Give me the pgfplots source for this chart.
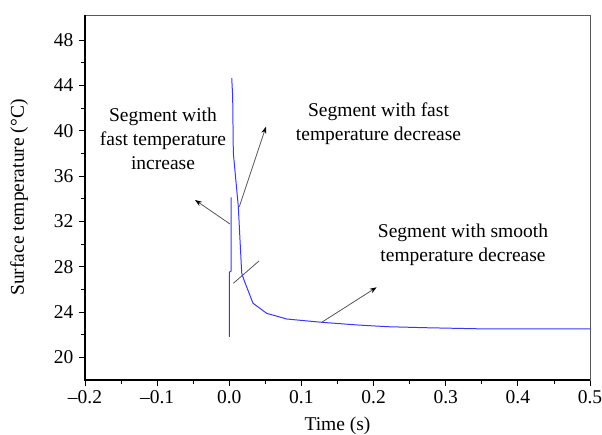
\documentclass[border=0pt]{standalone}
\usepackage{fontspec}
\setmainfont{Liberation Serif}
\usepackage{pgfplots}
\pgfplotsset{compat=1.18}
\usetikzlibrary{arrows.meta}
\definecolor{curve}{RGB}{55,55,255}
\definecolor{arr}{RGB}{85,85,85}
\newcommand{\fs}{\fontsize{19.5bp}{24bp}\selectfont}
\begin{document}
\begin{tikzpicture}[x=1bp,y=1bp]
\useasboundingbox (-85,-55) rectangle (517,380);
\begin{axis}[
  at={(0,0)}, anchor=south west,
  width=505bp, height=365bp, scale only axis,
  xmin=-0.2, xmax=0.5, ymin=18, ymax=50.2,
  xtick={-0.2,-0.1,0,0.1,0.2,0.3,0.4,0.5},
  xticklabels={\textendash0.2,\textendash0.1,0.0,0.1,0.2,0.3,0.4,0.5},
  ytick={20,24,28,32,36,40,44,48},
  yticklabels={20,24,28,32,36,40,44,48},
  minor x tick num=1, minor y tick num=1,
  tick align=outside, xtick pos=left, ytick pos=left,
  major tick length=6bp, minor tick length=4bp,
  tick style={black, line width=0.8pt},
  axis line style={black!65, line width=0.9pt},
  ticklabel style={font=\fs},
  xticklabel style={yshift=-1bp},
  yticklabel style={xshift=-2bp},
  xlabel={Time (s)},
  ylabel={Surface temperature (°C)},
  every axis x label/.style={at={(axis description cs:0.5,-0.126)},anchor=center,font=\fs},
  every axis y label/.style={at={(axis description cs:-0.1307,0.5)},rotate=90,anchor=center,font=\fs},
  clip=false,
]
\addplot[curve, line width=1pt] coordinates {
 (0.0000,21.8) (0.0000,27.5) (0.0024,27.6) (0.0024,34.1)
};
\addplot[curve, line width=1pt] coordinates {
 (0.0034,44.62) (0.0047,42.99) (0.0056,38.03) (0.0125,33.29) (0.0172,27.44)
 (0.0204,26.82) (0.0329,24.77) (0.0519,23.88) (0.0796,23.38) (0.1281,23.09)
 (0.1784,22.85) (0.2200,22.70) (0.2737,22.61) (0.3586,22.50) (0.5000,22.50)
};
\draw[arr, line width=0.8pt, -{Stealth[black,length=7bp,width=5bp]}] (axis cs:0.0010,31.76) -- (axis cs:-0.0475,33.88);
\draw[arr, line width=0.8pt, -{Stealth[black,length=7bp,width=5bp]}] (axis cs:0.0139,33.29) -- (axis cs:0.0509,40.35);
\draw[arr, line width=0.8pt] (axis cs:0.0056,26.53) -- (axis cs:0.0412,28.50);
\draw[arr, line width=0.8pt, -{Stealth[black,length=7bp,width=5bp]}] (axis cs:0.1281,23.09) -- (axis cs:0.2043,26.18);
\draw[black, line width=1.2pt] (rel axis cs:0,1) -- (rel axis cs:0,0) -- (rel axis cs:1,0);
\end{axis}
\node[align=center, font=\fs, inner sep=0] at (78,241) {Segment with\\fast temperature\\increase};
\node[align=center, font=\fs, inner sep=0] at (293.5,256.5) {Segment with fast\\temperature decrease};
\node[align=center, font=\fs, inner sep=0] at (378,135) {Segment with smooth\\temperature decrease};
\end{tikzpicture}
\end{document}
